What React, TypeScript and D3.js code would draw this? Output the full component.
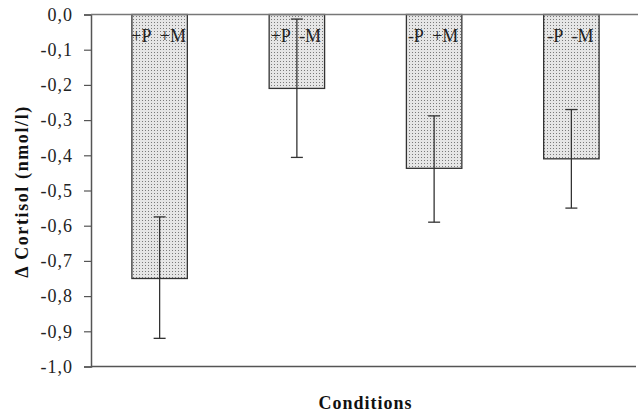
import * as d3 from 'd3';
import React, { useRef, useEffect } from 'react';

const conditions = ['+P +M', '+P -M', '-P +M', '-P -M'];
const means = [-0.75, -0.21, -0.437, -0.41];
const errUpper = [-0.575, -0.013, -0.288, -0.27];
const errLower = [-0.92, -0.406, -0.59, -0.55];
const yTicks = [0, -0.1, -0.2, -0.3, -0.4, -0.5, -0.6, -0.7, -0.8, -0.9, -1.0];

const W = 638;
const H = 413;

function App() {
    const ref = useRef<SVGSVGElement>(null);

    useEffect(() => {
        const svg = d3.select(ref.current);
        svg.selectAll('*').remove();

        const left = 91, right = 640, top = 14.5, bottom = 366.5;
        const font = '"Liberation Serif", "Times New Roman", serif';

        const y = d3.scaleLinear().domain([0, -1]).range([top, bottom]);
        const x = d3.scaleBand()
            .domain(conditions)
            .range([left, right])
            .paddingInner(0.596)
            .paddingOuter(0.298);

        // dotted fill
        const pat = svg.append('defs').append('pattern')
            .attr('id', 'dots')
            .attr('width', 3)
            .attr('height', 3)
            .attr('patternUnits', 'userSpaceOnUse');
        pat.append('rect').attr('width', 3).attr('height', 3).attr('fill', '#e6e6e6');
        pat.append('rect').attr('x', 1).attr('y', 1).attr('width', 1).attr('height', 1).attr('fill', '#7a7a7a');

        // Y axis
        const yAxis = svg.append('g')
            .attr('transform', `translate(${left},0)`)
            .call(d3.axisLeft(y).tickValues(yTicks).tickSize(7).tickPadding(11)
                .tickFormat(d => d3.format('.1f')(d as number).replace('.', ',').replace('−', '-')));
        yAxis.select('.domain').attr('stroke', '#555').attr('stroke-width', 1.5);
        yAxis.selectAll('.tick line').attr('stroke', '#555').attr('stroke-width', 1.2);
        yAxis.selectAll('text')
            .attr('font-family', font)
            .attr('font-size', 18)
            .attr('letter-spacing', 1)
            .attr('fill', '#222');

        // bottom line at -1,0
        svg.append('line')
            .attr('x1', left).attr('x2', 636)
            .attr('y1', y(-1)).attr('y2', y(-1))
            .attr('stroke', '#555').attr('stroke-width', 1.5);

        // bars
        svg.selectAll('rect.bar')
            .data(conditions)
            .join('rect')
            .attr('class', 'bar')
            .attr('x', d => x(d)!)
            .attr('y', y(0))
            .attr('width', x.bandwidth())
            .attr('height', (d, i) => y(means[i]) - y(0))
            .attr('fill', 'url(#dots)')
            .attr('stroke', '#333')
            .attr('stroke-width', 1.3);

        // zero line
        svg.append('line')
            .attr('x1', left).attr('x2', W)
            .attr('y1', y(0)).attr('y2', y(0))
            .attr('stroke', '#777').attr('stroke-width', 1.5);

        // error bars
        const eb = svg.selectAll('g.err')
            .data(conditions)
            .join('g')
            .attr('class', 'err')
            .attr('transform', d => `translate(${x(d)! + x.bandwidth() / 2},0)`);
        eb.append('line')
            .attr('y1', (d, i) => y(errUpper[i]))
            .attr('y2', (d, i) => y(errLower[i]))
            .attr('stroke', '#333').attr('stroke-width', 1.3);
        eb.append('line')
            .attr('x1', -6).attr('x2', 6)
            .attr('y1', (d, i) => y(errUpper[i]))
            .attr('y2', (d, i) => y(errUpper[i]))
            .attr('stroke', '#333').attr('stroke-width', 1.3);
        eb.append('line')
            .attr('x1', -6).attr('x2', 6)
            .attr('y1', (d, i) => y(errLower[i]))
            .attr('y2', (d, i) => y(errLower[i]))
            .attr('stroke', '#333').attr('stroke-width', 1.3);

        // bar labels
        svg.selectAll('text.lbl')
            .data(conditions)
            .join('text')
            .attr('class', 'lbl')
            .attr('x', d => x(d)! + x.bandwidth() / 2 - 1)
            .attr('y', 42)
            .attr('text-anchor', 'middle')
            .attr('font-family', font)
            .attr('font-size', 18)
            .attr('fill', '#222')
            .attr('xml:space', 'preserve')
            .text(d => d.replace(' ', '  '));

        // axis titles
        svg.append('text')
            .attr('transform', `translate(28,191.5) rotate(-90)`)
            .attr('text-anchor', 'middle')
            .attr('font-family', font)
            .attr('font-weight', 'bold')
            .attr('font-size', 18)
            .attr('letter-spacing', 1.6)
            .attr('fill', '#111')
            .text('Δ Cortisol (nmol/l)');

        svg.append('text')
            .attr('x', (left + right) / 2)
            .attr('y', 409)
            .attr('text-anchor', 'middle')
            .attr('font-family', font)
            .attr('font-weight', 'bold')
            .attr('font-size', 18)
            .attr('letter-spacing', 1)
            .attr('fill', '#111')
            .text('Conditions');
    }, []);

    return (
        <svg ref={ref} width={W} height={H}
            style={{ position: 'absolute', left: 0, top: 0, background: '#fff' }} />
    );
}

export default App;
